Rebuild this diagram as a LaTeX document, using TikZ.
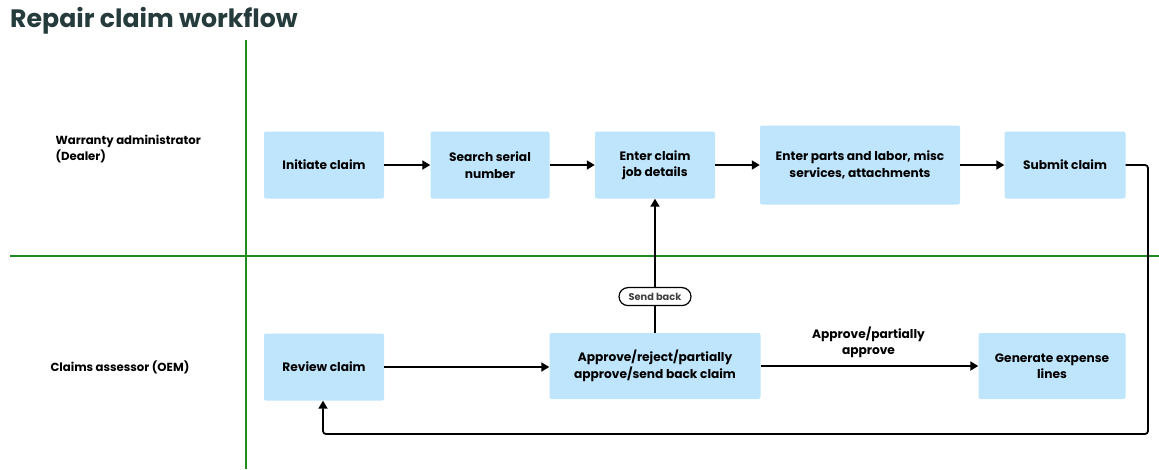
\documentclass[tikz,border=0pt]{standalone}
\usepackage{fontspec}
\setmainfont{Poppins}
\usetikzlibrary{arrows.meta}
\definecolor{boxblue}{HTML}{BFE5FC}
\definecolor{lanegreen}{HTML}{1E8C1E}
\definecolor{titlecol}{HTML}{263B3C}
\tikzset{
  proc/.style={fill=boxblue, rounded corners=2pt, inner sep=0pt, align=center, font=\fontsize{12.2}{16.5}\selectfont\bfseries},
  flow/.style={line width=1.8pt, -{Triangle[length=8pt,width=9pt]}},
  lane/.style={draw=lanegreen, line width=1.3pt},
  lanelabel/.style={anchor=west, align=left, font=\fontsize{11.7}{16}\selectfont\bfseries},
  pill/.style={draw=black, line width=1.2pt, fill=white, rounded corners=9pt, font=\fontsize{9.8}{11}\selectfont\bfseries, text=black!75, minimum width=72pt, minimum height=18pt, inner sep=0pt},
  edgelabel/.style={align=center, font=\fontsize{12.2}{16}\selectfont\bfseries}
}
\begin{document}
\begin{tikzpicture}[x=1pt,y=-1pt]
\useasboundingbox (0,0) rectangle (1159,469);
% title
\node[anchor=west, text=titlecol, font=\fontsize{25.2}{28}\selectfont\bfseries, inner sep=0pt] (title) at (10,21) {Repair claim workflow};
% lanes
\coordinate (vtop) at (246,40);
\coordinate (vbot) at (246,469);
\coordinate (hl) at (10,256);
\coordinate (hr) at (1159,256);
\draw[lane] (vtop) -- (vbot);
\draw[lane] (hl) -- (hr);
\node[lanelabel] (lane1) at (52,149) {Warranty administrator\\(Dealer)};
\node[lanelabel] (lane2) at (47,367) {Claims assessor (OEM)};
% boxes
\node[proc, minimum width=120pt, minimum height=67pt] (init) at (324,165) {Initiate claim};
\node[proc, minimum width=119pt, minimum height=67pt] (search) at (490,165) {Search serial\\number};
\node[proc, minimum width=120pt, minimum height=67pt] (job) at (655,165) {Enter claim\\job details};
\node[proc, minimum width=200pt, minimum height=79pt] (parts) at (860,165) {Enter parts and labor, misc\\services, attachments};
\node[proc, minimum width=121pt, minimum height=67pt] (submit) at (1065,165) {Submit claim};
\node[proc, minimum width=120pt, minimum height=67pt] (review) at (324,367) {Review claim};
\node[proc, minimum width=211pt, minimum height=66pt] (decide) at (655,366) {Approve/reject/partially\\approve/send back claim};
\node[proc, minimum width=147pt, minimum height=66pt] (gen) at (1052,366) {Generate expense\\lines};
% connectors
\draw[flow] (init) -- (search);
\draw[flow] (search) -- (job);
\draw[flow] (job) -- (parts);
\draw[flow] (parts) -- (submit);
\draw[flow] (review.east) -- (decide.west |- review.east);
\draw[flow] (decide) -- node[edgelabel, above=4pt, xshift=-1pt] (lbl) {Approve/partially\\approve} (gen);
\draw[flow] (decide) -- node[pill, pos=0.27] (sb) {Send back} (job);
\coordinate (c1) at (1148,165);
\coordinate (c2) at (1148,434);
\coordinate (c3) at (323,434);
\draw[flow, rounded corners=3pt] (submit.east) -- (c1) -- (c2) -- (c3) -- (review.south -| c3);
\end{tikzpicture}
\end{document}
